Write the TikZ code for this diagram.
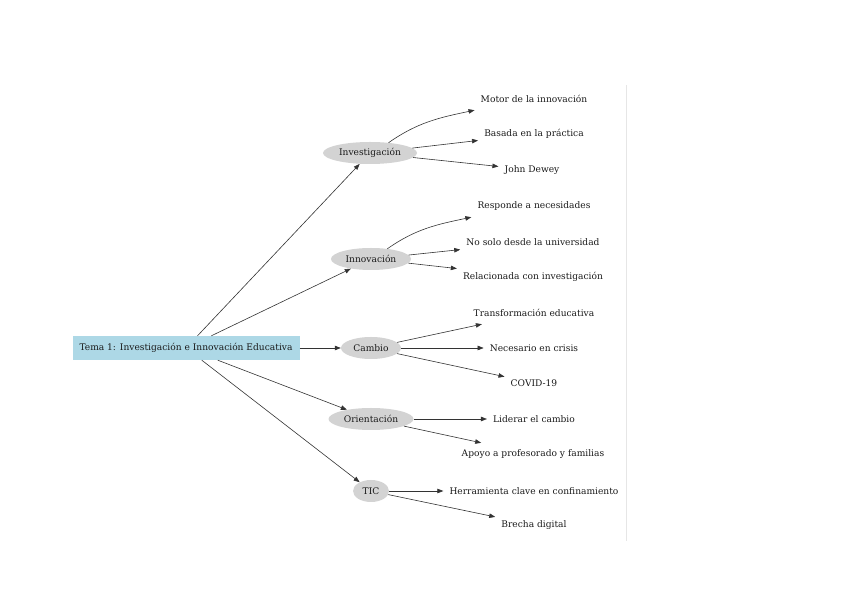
\documentclass[tikz,border=0pt]{standalone}
\usepackage{fontspec}
\setmainfont{DejaVu Serif}
\usepackage{tikz}
\usetikzlibrary{shapes.geometric, arrows.meta}
\definecolor{lightblue}{HTML}{ADD8E6}
\definecolor{lightgray}{HTML}{D3D3D3}
\definecolor{rulegray}{HTML}{E6E6E6}
\tikzset{
        txt/.style={font=\fontsize{9.1}{11}\selectfont, text=black!90},
        topic/.style={txt, fill=lightblue, minimum width=227pt, minimum height=24pt, inner sep=0pt},
        branch/.style={txt, ellipse, fill=lightgray, minimum height=22pt, inner sep=0pt},
        leaf/.style={txt, inner xsep=6pt, inner ysep=0pt, minimum height=22pt},
        arr/.style={-{Triangle[length=6pt,width=4.5pt]}, line width=0.6pt, draw=black!80},
    }
\begin{document}
\begin{tikzpicture}[x=1pt, y=1pt]
\useasboundingbox (0,0) rectangle (848,599);
% root and branches
\node[topic] (tema) at (186,251) {Tema 1: Investigación e Innovación Educativa};
\node[branch, minimum width=94pt] (inv) at (370,446) {Investigación};
\node[branch, minimum width=80pt] (innov) at (371,340) {Innovación};
\node[branch, minimum width=60pt] (cambio) at (371,251) {Cambio};
\node[branch, minimum width=85pt] (orient) at (371,180) {Orientación};
\node[branch, minimum width=36pt] (tic) at (371,108) {TIC};
% leaves
\node[leaf] (motor) at (534,500) {Motor de la innovación};
\node[leaf] (basada) at (534,465) {Basada en la práctica};
\node[leaf] (dewey) at (532,429) {John Dewey};
\node[leaf] (responde) at (534,393) {Responde a necesidades};
\node[leaf] (nosolo) at (533,357) {No solo desde la universidad};
\node[leaf] (relac) at (533,322) {Relacionada con investigación};
\node[leaf] (transf) at (534,286) {Transformación educativa};
\node[leaf] (necesario) at (534,251) {Necesario en crisis};
\node[leaf] (covid) at (534,216) {COVID-19};
\node[leaf] (liderar) at (534,180) {Liderar el cambio};
\node[leaf] (apoyo) at (533,145) {Apoyo a profesorado y familias};
\node[leaf] (herr) at (534,108) {Herramienta clave en confinamiento};
\node[leaf] (brecha) at (534,74) {Brecha digital};
% edges
\draw[arr] (tema) -- (inv);
\draw[arr] (tema) -- (innov);
\draw[arr] (tema) -- (cambio);
\draw[arr] (tema) -- (orient);
\draw[arr] (tema) -- (tic);
\draw[arr] (inv.29) to[out=35, in=192] (motor.south west);
\draw[arr] (inv) -- (basada);
\draw[arr] (inv) -- (dewey);
\draw[arr] (innov.32) to[out=35, in=192] (responde.south west);
\draw[arr] (innov) -- (nosolo);
\draw[arr] (innov) -- (relac);
\draw[arr] (cambio) -- (transf);
\draw[arr] (cambio) -- (necesario);
\draw[arr] (cambio) -- (covid);
\draw[arr] (orient) -- (liderar);
\draw[arr] (orient) -- (apoyo);
\draw[arr] (tic) -- (herr);
\draw[arr] (tic) -- (brecha);
% page edge
\draw[rulegray, line width=1.5pt] (626.5,514) -- (626.5,58);
\end{tikzpicture}
\end{document}
